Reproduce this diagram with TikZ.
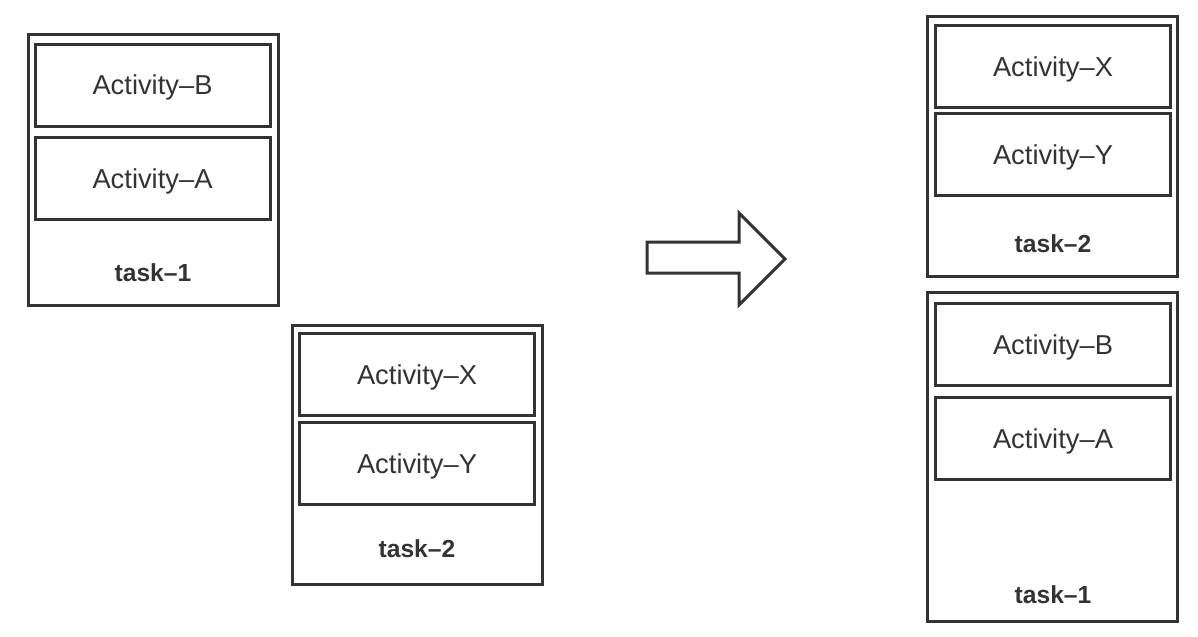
\documentclass[tikz,border=0pt]{standalone}
\usepackage{fontspec}
\setmainfont{Liberation Sans}
\usetikzlibrary{positioning}
\definecolor{linegray}{HTML}{333333}

\begin{document}
\begin{tikzpicture}[x=0.75pt,y=-0.75pt,
  taskbox/.style={draw=linegray,line width=2.25pt,minimum width=187.5pt,inner sep=0pt,outer sep=0pt},
  actbox/.style={draw=linegray,line width=2.25pt,minimum width=176.25pt,minimum height=61.5pt,
    inner sep=0pt,outer sep=0pt,text depth=0pt,font=\fontsize{20.5}{24}\selectfont,text=linegray},
  tasklabel/.style={font=\fontsize{18.5}{22}\selectfont\bfseries,text=linegray}]
  % Background
  \useasboundingbox (0,0) rectangle (1198,636);
  
  % Left task-1
  \node[taskbox,minimum height=203.25pt] (t1) at (153,169.5) {};
  \node[actbox] (t1b) at (152.5,85) {Activity–B};
  \node[actbox] (t1a) at (152.5,178.5) {Activity–A};
  \node[tasklabel] (t1l) at (153,273) {task–1};
  
  % Middle task-2
  \node[taskbox,minimum height=194.25pt] (t2) at (417.5,454.5) {};
  \node[actbox] (t2x) at (417,374.5) {Activity–X};
  \node[actbox] (t2y) at (417,463.5) {Activity–Y};
  \node[tasklabel] (t2l) at (417,549) {task–2};
  
  % Arrow
  \draw[linegray,line width=2.25pt,line join=miter]
    (647,242) -- (739,242) -- (739,213) -- (785,259) -- (739,305) -- (739,273) -- (647,273) -- cycle;
  
  % Right task-2
  \node[taskbox,minimum height=195pt] (r2) at (1052.5,146) {};
  \node[actbox] (r2x) at (1053,66.5) {Activity–X};
  \node[actbox] (r2y) at (1053,154.5) {Activity–Y};
  \node[tasklabel] (r2l) at (1053,244) {task–2};
  
  % Right task-1
  \node[taskbox,minimum height=246.75pt] (r1) at (1052.5,456.5) {};
  \node[actbox] (r1b) at (1053,344.5) {Activity–B};
  \node[actbox] (r1a) at (1053,438.5) {Activity–A};
  \node[tasklabel] (r1l) at (1053,595) {task–1};
  
\end{tikzpicture}
\end{document}
